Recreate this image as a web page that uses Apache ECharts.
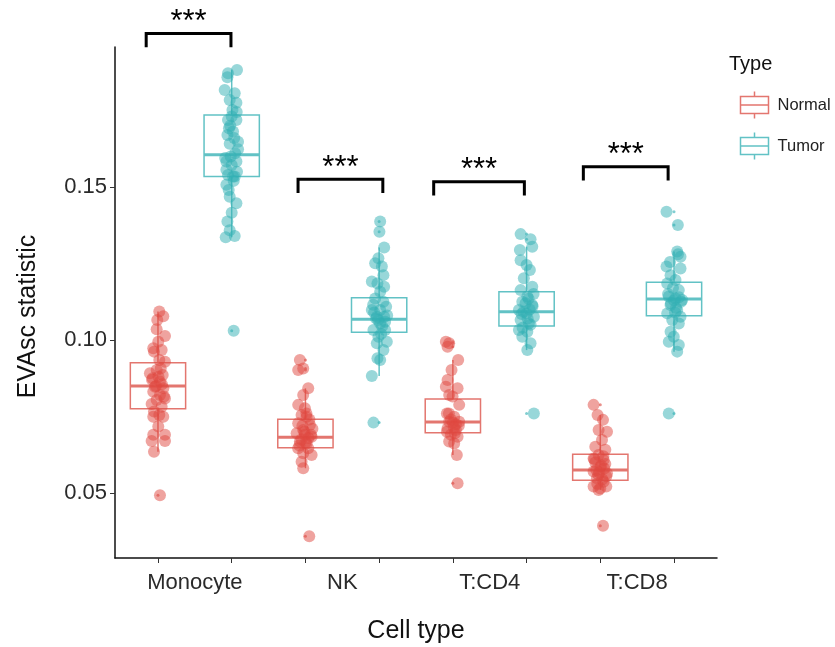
<!DOCTYPE html>
<html><head><meta charset="utf-8">
<script src="https://cdn.jsdelivr.net/npm/echarts@6/dist/echarts.min.js"></script>
<style>html,body{margin:0;padding:0;background:#fff}#c{width:835px;height:647px}</style>
</head><body><div id="c"></div>
<script>
// ---------------- data ----------------
const categories = ['Monocyte', 'NK', 'T:CD4', 'T:CD8'];
const types = ['Normal', 'Tumor'];
const yTicks = [0.05, 0.10, 0.15];

// box statistics per category: [lower whisker, Q1, median, Q3, upper whisker]
const boxNormal = [
  [0.0635, 0.0775, 0.0850, 0.0926, 0.1093],
  [0.0581, 0.0648, 0.0682, 0.0741, 0.0842],
  [0.0624, 0.0697, 0.0732, 0.0807, 0.0935],
  [0.0510, 0.0542, 0.0575, 0.0627, 0.0755]
];
const boxTumor = [
  [0.1336, 0.1534, 0.1605, 0.1735, 0.1882],
  [0.0882, 0.1025, 0.1068, 0.1138, 0.1302],
  [0.0967, 0.1046, 0.1092, 0.1158, 0.1305],
  [0.0962, 0.1079, 0.1134, 0.1189, 0.1289]
];
const outliersNormal = [[0.0493], [0.0935, 0.0907, 0.0902, 0.0359], [0.0994, 0.0989, 0.0978, 0.0532], [0.0788, 0.0393]];
const outliersTumor = [[0.1030], [0.1387, 0.1354, 0.0730], [0.1346, 0.1329, 0.0760], [0.1419, 0.1376, 0.0760]];

// individual cell values (EVAsc statistic)
const monoNormal = [0.1093,0.1078,0.1065,0.1035,0.1013,0.0994,0.0973,0.0967,0.0962,0.0935,0.0929,0.0907,0.0902,0.0891,0.0886,0.0875,0.0864,0.0847,0.0842,0.0831,0.0820,0.0809,0.0804,0.0791,0.0782,0.0766,0.0755,0.0749,0.0749,0.0717,0.0690,0.0690,0.0670,0.0670,0.0635,0.0493,0.0850,0.0855,0.0870,0.0880,0.0815];
const monoTumor = [0.1882,0.1872,0.1859,0.1817,0.1806,0.1784,0.1775,0.1752,0.1730,0.1719,0.1719,0.1692,0.1670,0.1681,0.1648,0.1641,0.1623,0.1583,0.1583,0.1572,0.1556,0.1550,0.1539,0.1534,0.1507,0.1534,0.1468,0.1447,0.1416,0.1387,0.1359,0.1336,0.1340,0.1030,0.1600,0.1610,0.1595,0.1660,0.1700,0.1745,0.1520,0.1490];
const nkNormal = [0.0935,0.0902,0.0907,0.0842,0.0820,0.0788,0.0777,0.0755,0.0749,0.0728,0.0722,0.0706,0.0695,0.0690,0.0684,0.0668,0.0662,0.0646,0.0646,0.0630,0.0624,0.0602,0.0581,0.0359,0.0680,0.0675,0.0690,0.0700,0.0710,0.0665,0.0655,0.0740,0.0760,0.0720];
const nkTumor = [0.1387,0.1354,0.1302,0.1267,0.1251,0.1240,0.1212,0.1191,0.1185,0.1174,0.1158,0.1136,0.1125,0.1098,0.1098,0.1109,0.1076,0.1076,0.1054,0.1033,0.1033,0.1011,0.0994,0.0989,0.0967,0.0940,0.0935,0.0882,0.0730,0.1070,0.1060,0.1090,0.1045,0.1115,0.1020,0.1080,0.1065];
const cd4Normal = [0.0994,0.0989,0.0978,0.0935,0.0902,0.0869,0.0842,0.0847,0.0815,0.0820,0.0788,0.0760,0.0749,0.0733,0.0733,0.0711,0.0706,0.0690,0.0684,0.0668,0.0662,0.0624,0.0532,0.0730,0.0725,0.0740,0.0720,0.0700,0.0715,0.0760,0.0695];
const cd4Tumor = [0.1346,0.1329,0.1305,0.1294,0.1261,0.1245,0.1229,0.1202,0.1174,0.1163,0.1142,0.1125,0.1114,0.1098,0.1087,0.1076,0.1065,0.1054,0.1033,0.1027,0.1011,0.0989,0.0967,0.0760,0.1100,0.1092,0.1110,0.1085,0.1070,0.1120,0.1050,0.1040,0.1135,0.1150];
const cd8Normal = [0.0788,0.0755,0.0739,0.0706,0.0700,0.0673,0.0651,0.0641,0.0624,0.0613,0.0608,0.0586,0.0570,0.0564,0.0548,0.0537,0.0521,0.0515,0.0521,0.0510,0.0393,0.0580,0.0575,0.0590,0.0560,0.0555,0.0600,0.0620,0.0545,0.0530,0.0595,0.0567,0.0610];
const cd8Tumor = [0.1419,0.1376,0.1289,0.1272,0.1240,0.1234,0.1212,0.1196,0.1185,0.1163,0.1142,0.1136,0.1131,0.1114,0.1098,0.1087,0.1076,0.1065,0.1054,0.1027,0.1011,0.0994,0.0984,0.0962,0.0760,0.1130,0.1140,0.1120,0.1150,0.1105,0.1125,0.1170,0.1090,0.1255,0.1280];

// horizontal jitter (x-axis units, one box spacing = 1)
const jitMonoNormal = [0.018,0.072,-0.010,-0.018,0.095,0.004,-0.064,0.050,-0.054,0.018,0.095,0.037,-0.018,-0.109,0.064,-0.072,0.027,-0.041,0.072,-0.064,0.027,0.095,-0.018,-0.086,0.050,-0.054,0.018,-0.064,0.072,0.004,-0.064,0.095,-0.086,0.095,-0.054,0.027,-0.027,0.054,-0.081,0.007,0.081];
const jitMonoTumor = [0.072,-0.050,-0.058,-0.095,0.041,-0.027,0.064,0.010,0,-0.050,0.064,-0.037,-0.058,0.018,0.086,-0.027,0.086,-0.072,0.064,0,-0.072,0.072,-0.050,0.018,-0.072,0.041,-0.027,0.064,0,-0.058,-0.027,-0.081,0.041,0.027,-0.014,0.047,-0.088,0.034,-0.020,0.068,0.027,-0.041];
const jitNkNormal = [-0.075,-0.098,-0.030,0.038,-0.030,-0.098,-0.007,-0.052,0.016,-0.098,0.061,-0.030,-0.119,-0.007,0.084,-0.075,0.016,-0.098,0.038,-0.030,0.084,-0.052,-0.030,0.052,0.041,-0.054,0.075,-0.014,0.095,0,-0.081,0.054,0.014,-0.041];
const jitNkTumor = [0.014,0.004,0.068,-0.010,-0.054,0.037,0.058,-0.099,-0.023,0.068,0.014,-0.054,0.058,-0.099,0.014,0.095,-0.031,0.068,0.014,-0.077,0.081,-0.010,0.104,-0.031,0.058,-0.023,0.014,-0.099,-0.077,-0.041,0.081,-0.068,0.041,-0.081,0.027,0.109,-0.014];
const jitCd4Normal = [-0.095,-0.050,-0.072,0.072,-0.018,-0.072,0.064,-0.095,-0.004,-0.050,0.086,-0.081,0.018,-0.050,0.086,-0.072,0.041,-0.027,0.064,-0.050,0.018,0.054,0.064,0,0.041,-0.027,0.081,-0.081,0.014,-0.054,0.027];
const jitCd4Tumor = [-0.081,0.054,0.077,-0.091,-0.081,0,0.045,-0.037,0.077,-0.081,0.010,-0.058,0.077,-0.104,0,0.099,-0.081,0.031,-0.104,0.010,-0.058,0.054,0.010,0.099,0.041,-0.041,0.081,-0.068,0.014,-0.014,0.054,-0.054,0.027,0.095];
const jitCd8Normal = [-0.091,-0.037,0.037,-0.023,0.091,0.023,-0.068,0.068,-0.023,-0.091,0.045,0,-0.091,0.091,-0.045,0.045,-0.091,0,0.081,-0.023,0.037,0.054,-0.054,0.014,-0.027,0.081,-0.068,0.041,0.027,-0.041,0.068,-0.014,-0.081];
const jitCd8Tumor = [-0.102,0.052,0.043,0.088,-0.102,0.088,-0.047,0.020,-0.092,0.065,-0.071,0.020,0.111,-0.047,0.043,-0.092,0.088,-0.024,0.065,-0.047,-0.003,-0.071,0.065,0.043,-0.071,0,0.068,-0.041,-0.081,0.027,0.095,-0.014,0.014,-0.054,0.054];

// significance annotations (Normal vs Tumor)
const sigLabels = ['***', '***', '***', '***'];
const sigHeights = [0.2002, 0.1525, 0.1517, 0.1566];
const sigSpans = [[-0.16, 0.99], [1.90, 3.05], [3.74, 4.97], [5.77, 6.92]];

// ---------------- chart ----------------
const FONT = '"Liberation Sans", Arial, Helvetica, sans-serif';
const COL_BOX = { Normal: '#E3766F', Tumor: '#62C2C5' };
const COL_PT = { Normal: '#E04840', Tumor: '#32AFB3' };
const BOX_W = 0.75;
const SIG_TIP = 0.0045;

const pointsNormal = [monoNormal, nkNormal, cd4Normal, cd8Normal];
const pointsTumor = [monoTumor, nkTumor, cd4Tumor, cd8Tumor];
const jitNormal = [jitMonoNormal, jitNkNormal, jitCd4Normal, jitCd8Normal];
const jitTumor = [jitMonoTumor, jitNkTumor, jitCd4Tumor, jitCd8Tumor];

function posOf(catIdx, typeIdx) { return catIdx * 2 + typeIdx; }

function boxRender(color) {
  return function (params, api) {
    const x = api.value(0);
    const lo = api.coord([x, api.value(1)]);
    const q1 = api.coord([x, api.value(2)]);
    const md = api.coord([x, api.value(3)]);
    const q3 = api.coord([x, api.value(4)]);
    const hi = api.coord([x, api.value(5)]);
    const l = api.coord([x - BOX_W / 2, api.value(3)])[0];
    const r = api.coord([x + BOX_W / 2, api.value(3)])[0];
    const st = { stroke: color, lineWidth: 1.5, fill: null };
    return {
      type: 'group',
      children: [
        { type: 'line', shape: { x1: lo[0], y1: lo[1], x2: q1[0], y2: q1[1] }, style: st },
        { type: 'line', shape: { x1: q3[0], y1: q3[1], x2: hi[0], y2: hi[1] }, style: st },
        { type: 'rect', shape: { x: l, y: q3[1], width: r - l, height: q1[1] - q3[1] }, style: st },
        { type: 'line', shape: { x1: l, y1: md[1], x2: r, y2: md[1] }, style: { stroke: color, lineWidth: 3 } }
      ]
    };
  };
}

const series = [];
types.forEach(function (t, ti) {
  const boxes = ti === 0 ? boxNormal : boxTumor;
  series.push({
    type: 'custom', name: t, silent: true, z: 2,
    renderItem: boxRender(COL_BOX[t]),
    encode: { x: 0, y: [1, 2, 3, 4, 5] },
    itemStyle: { color: COL_BOX[t] },
    data: boxes.map(function (b, ci) { return [posOf(ci, ti)].concat(b); })
  });
  const outs = ti === 0 ? outliersNormal : outliersTumor;
  const od = [];
  outs.forEach(function (arr, ci) { arr.forEach(function (v) { od.push([posOf(ci, ti), v]); }); });
  series.push({
    type: 'scatter', name: t, silent: true, z: 3, symbolSize: 3,
    itemStyle: { color: COL_BOX[t] }, data: od
  });
});
types.forEach(function (t, ti) {
  const pts = ti === 0 ? pointsNormal : pointsTumor;
  const jit = ti === 0 ? jitNormal : jitTumor;
  const d = [];
  pts.forEach(function (arr, ci) {
    arr.forEach(function (v, k) { d.push([posOf(ci, ti) + (jit[ci][k] || 0), v]); });
  });
  series.push({
    type: 'scatter', name: t, silent: true, z: 4, symbolSize: 12,
    itemStyle: { color: COL_PT[t], opacity: 0.5 }, data: d
  });
});
series.push({
  type: 'custom', name: 'sig', silent: true, z: 5, clip: false,
  encode: { x: [0, 1], y: 2 },
  data: sigSpans.map(function (s, i) { return [s[0], s[1], sigHeights[i]]; }),
  renderItem: function (params, api) {
    const x1 = api.value(0), x2 = api.value(1), y = api.value(2);
    const tl = api.coord([x1, y]), tr = api.coord([x2, y]);
    const bl = api.coord([x1, y - SIG_TIP]), br = api.coord([x2, y - SIG_TIP]);
    return {
      type: 'group', children: [
        { type: 'polyline', shape: { points: [bl, tl, tr, br] }, style: { stroke: '#000', lineWidth: 3, fill: null } },
        { type: 'text', style: { text: sigLabels[params.dataIndex], x: (tl[0] + tr[0]) / 2, y: tl[1] - 11,
          align: 'center', verticalAlign: 'middle', font: '31px ' + FONT, fill: '#000' } }
      ]
    };
  }
});

const ICON = 'path://M14,0 L14,5 M0,5 L28,5 L28,22 L0,22 Z M0,13.5 L28,13.5 M14,22 L14,27';

const option = {
  animation: false,
  backgroundColor: '#fff',
  title: { text: 'Type', left: 729, top: 54, padding: 0, textStyle: { fontFamily: FONT, fontSize: 20, fontWeight: 'normal', color: '#111' } },
  legend: {
    orient: 'vertical', left: 738, top: 89, padding: 0, itemWidth: 28, itemHeight: 27, itemGap: 9,
    selectedMode: false,
    textStyle: { fontFamily: FONT, fontSize: 16.5, color: '#222', padding: [0, 0, 0, 4] },
    data: types.map(function (t) {
      return { name: t, icon: ICON, itemStyle: { color: 'none', borderColor: COL_BOX[t], borderWidth: 1.5 } };
    })
  },
  grid: { left: 115, right: 118, top: 47, bottom: 89, containLabel: false, outerBoundsMode: 'none' },
  xAxis: {
    type: 'value', min: -0.583, max: 7.583,
    name: 'Cell type', nameLocation: 'middle', nameGap: 61,
    nameTextStyle: { fontFamily: FONT, fontSize: 25, color: '#111' },
    splitLine: { show: false },
    axisLine: { onZero: false, lineStyle: { color: '#111', width: 1.5 } },
    axisTick: { length: 5, lineStyle: { color: '#333' }, customValues: [0, 1, 2, 3, 4, 5, 6, 7] },
    axisLabel: {
      customValues: categories.map(function (c, i) { return i * 2 + 0.5; }),
      formatter: function (v) { return categories[Math.round((v - 0.5) / 2)]; },
      fontFamily: FONT, fontSize: 22, color: '#2a2a2a', margin: 14
    }
  },
  yAxis: {
    type: 'value', min: 0.02876, max: 0.19575,
    name: 'EVAsc statistic', nameLocation: 'middle', nameGap: 74, nameRotate: 90,
    nameTextStyle: { fontFamily: FONT, fontSize: 25, color: '#111', padding: [0, 28, 0, 0] },
    splitLine: { show: false },
    axisLine: { show: true, onZero: false, lineStyle: { color: '#111', width: 1.5 } },
    axisTick: { show: true, length: 5, lineStyle: { color: '#333' }, customValues: yTicks },
    axisLabel: {
      customValues: yTicks,
      formatter: function (v) { return v.toFixed(2); },
      fontFamily: FONT, fontSize: 22, color: '#2a2a2a', margin: 8
    }
  },
  series: series
};

const chart = echarts.init(document.getElementById('c'), null, { renderer: 'canvas' });
chart.setOption(option);
</script></body></html>
